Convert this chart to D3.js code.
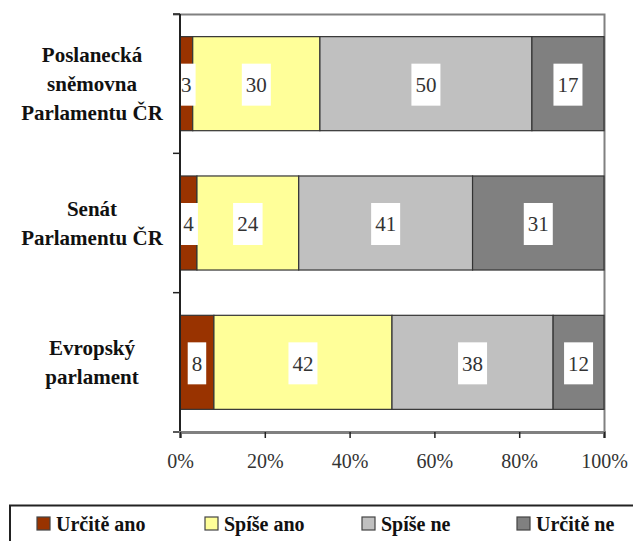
<!DOCTYPE html>
<html>
<head>
<meta charset="utf-8">
<script src="https://cdn.jsdelivr.net/npm/d3@7"></script>
<style>
  body { margin: 0; background: #fff; }
  svg { display: block; }
  .serif { font-family: "Times New Roman", "Liberation Serif", Tinos, "DejaVu Serif", serif; }
</style>
</head>
<body>
<svg id="chart" width="633" height="541"></svg>
<script>
const width = 633;
const height = 541;

// data
const categories = ["Poslanecká sněmovna Parlamentu ČR", "Senát Parlamentu ČR", "Evropský parlament"];
const categoryLines = [["Poslanecká", "sněmovna", "Parlamentu ČR"], ["Senát", "Parlamentu ČR"], ["Evropský", "parlament"]];
const series = ["Určitě ano", "Spíše ano", "Spíše ne", "Určitě ne"];
const urciteAno = [3, 4, 8];
const spiseAno = [30, 24, 42];
const spiseNe = [50, 41, 38];
const urciteNe = [17, 31, 12];
const xTicks = [0, 20, 40, 60, 80, 100];

const colors = ["#993300", "#ffff99", "#c0c0c0", "#808080"];

const rows = categories.map((c, i) => ({
  category: c,
  "Určitě ano": urciteAno[i],
  "Spíše ano": spiseAno[i],
  "Spíše ne": spiseNe[i],
  "Určitě ne": urciteNe[i]
}));

const margin = { top: 14, left: 180, right: 29, bottom: 109 };
const plotRight = width - margin.right;
const plotBottom = height - margin.bottom;

const x = d3.scaleLinear().domain([0, 100]).range([margin.left, plotRight]);
const y = d3.scaleBand().domain(categories)
  .range([margin.top, plotBottom])
  .paddingInner(0.325)
  .paddingOuter(0.1625);
const color = d3.scaleOrdinal().domain(series).range(colors);

const stacked = d3.stack().keys(series)(rows);

const svg = d3.select("#chart");

// frame: top and right border
svg.append("path")
  .attr("d", `M${margin.left - 7},${margin.top + 0.5}H${plotRight + 0.5}V${plotBottom}`)
  .attr("fill", "none")
  .attr("stroke", "#808080")
  .attr("stroke-width", 2);

// bars
const layer = svg.append("g")
  .selectAll("g")
  .data(stacked)
  .join("g")
    .attr("fill", d => color(d.key));

layer.selectAll("rect")
  .data(d => d)
  .join("rect")
    .attr("x", d => x(d[0]))
    .attr("y", d => y(d.data.category))
    .attr("width", d => x(d[1]) - x(d[0]))
    .attr("height", y.bandwidth())
    .attr("stroke", "#333")
    .attr("stroke-width", 1.2);

// value labels with white boxes
const labels = svg.append("g")
  .selectAll("g")
  .data(stacked.flatMap(s => s.map(d => ({ key: s.key, v: d[1] - d[0], mid: (d[0] + d[1]) / 2, category: d.data.category }))))
  .join("g")
    .attr("transform", d => `translate(${x(d.mid)},${y(d.category) + y.bandwidth() / 2 + 1})`);

labels.append("text")
  .attr("class", "serif")
  .attr("text-anchor", "middle")
  .attr("dy", "0.35em")
  .attr("font-size", 21)
  .attr("fill", "#333")
  .text(d => d.v);

labels.each(function() {
  const g = d3.select(this);
  const bb = g.select("text").node().getBBox();
  g.insert("rect", "text")
    .attr("x", -bb.width / 2 - 4)
    .attr("y", -21)
    .attr("width", bb.width + 8)
    .attr("height", 42)
    .attr("fill", "#fff");
});

// y axis line and ticks at band boundaries
const step = y.step();
const boundaries = d3.range(categories.length + 1).map(i => margin.top + i * step);
svg.append("line")
  .attr("x1", margin.left).attr("x2", margin.left)
  .attr("y1", margin.top).attr("y2", plotBottom)
  .attr("stroke", "#222").attr("stroke-width", 2);
svg.append("g")
  .selectAll("line")
  .data(boundaries)
  .join("line")
    .attr("x1", margin.left - 7).attr("x2", margin.left)
    .attr("y1", d => d).attr("y2", d => d)
    .attr("stroke", "#222").attr("stroke-width", 1.5);

// x axis
const xAxis = svg.append("g")
  .attr("transform", `translate(0,${plotBottom})`)
  .call(d3.axisBottom(x).tickValues(xTicks).tickFormat(d => d + "%").tickSize(6).tickPadding(16));
xAxis.attr("font-family", null);
xAxis.select(".domain")
  .attr("stroke", "#808080")
  .attr("stroke-width", 3);
xAxis.selectAll(".tick line").attr("stroke", "#222").attr("stroke-width", 1.5);
xAxis.selectAll(".tick text")
  .attr("class", "serif")
  .attr("font-size", 20)
  .attr("fill", "#333");

// category labels
const catLabel = svg.append("g")
  .selectAll("text")
  .data(categories)
  .join("text")
    .attr("class", "serif")
    .attr("text-anchor", "middle")
    .attr("font-weight", "bold")
    .attr("font-size", 21)
    .attr("fill", "#111");

catLabel.selectAll("tspan")
  .data((d, i) => categoryLines[i].map((line, j, arr) => ({ line, j, n: arr.length, category: d })))
  .join("tspan")
    .attr("x", 92)
    .attr("y", d => y(d.category) + y.bandwidth() / 2 + (d.j - (d.n - 1) / 2) * 29)
    .attr("dy", "0.35em")
    .text(d => d.line);

// legend
svg.append("path")
  .attr("d", `M10,${height}V505.5H${width}`)
  .attr("fill", "none")
  .attr("stroke", "#222")
  .attr("stroke-width", 2);

const legendX = [37, 205, 362, 517];
const legend = svg.append("g")
  .selectAll("g")
  .data(series)
  .join("g")
    .attr("transform", (d, i) => `translate(${legendX[i]},517)`);

legend.append("rect")
  .attr("width", 13)
  .attr("height", 13)
  .attr("fill", d => color(d))
  .attr("stroke", "#444")
  .attr("stroke-width", 1.2);

legend.append("text")
  .attr("class", "serif")
  .attr("x", 19)
  .attr("y", 6.5)
  .attr("dy", "0.35em")
  .attr("font-weight", "bold")
  .attr("font-size", 20)
  .attr("fill", "#111")
  .text(d => d);
</script>
</body>
</html>
